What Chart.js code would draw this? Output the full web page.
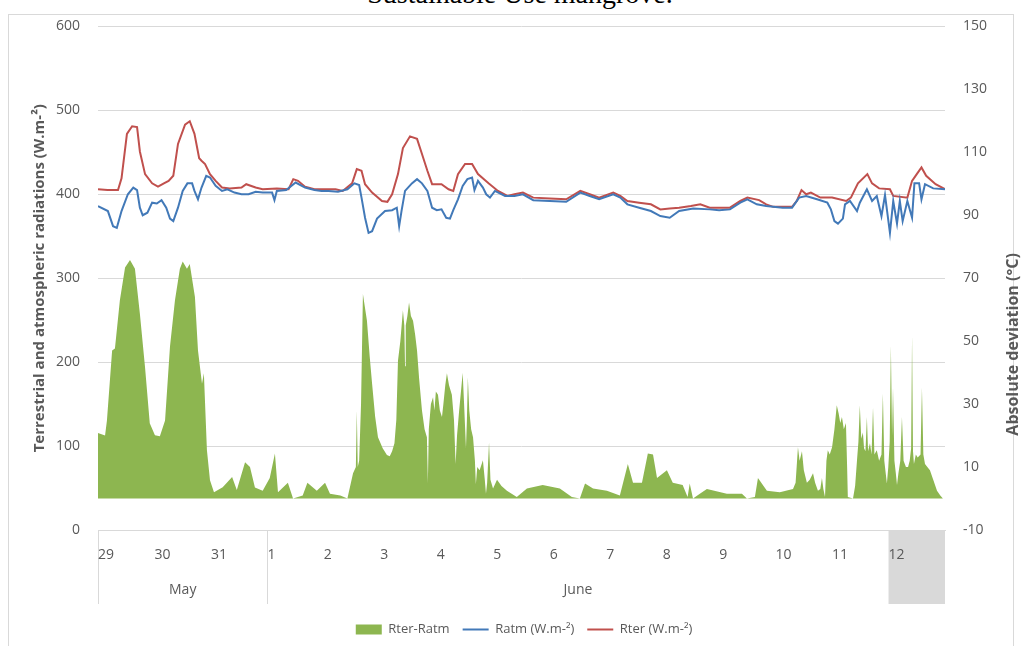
<!DOCTYPE html>
<html>
<head>
<meta charset="utf-8">
<script src="https://cdn.jsdelivr.net/npm/chart.js@4.4.1/dist/chart.umd.min.js"></script>
<style>
  html, body { margin: 0; padding: 0; background: #fff; overflow: hidden; }
  #frame { position: absolute; left: 8px; top: 14px; width: 1004px; height: 640px; border: 1px solid #d9d9d9; }
  #caption { position: absolute; left: 0; width: 1040px; top: -20px; text-align: center;
    font-family: "Liberation Serif", serif; font-size: 28px; line-height: 28px; color: #000; }
  #wrap { position: absolute; left: 0; top: 0; width: 1022px; height: 646px; }
</style>
</head>
<body>
<div id="frame"></div>
<div id="caption">Sustainable Use mangrove.</div>
<div id="wrap"><canvas id="radChart"></canvas></div>
<script>
// x = hours since 29 May 00:00
const dayLabels = ['29', '30', '31', '1', '2', '3', '4', '5', '6', '7', '8', '9', '10', '11', '12'];
const monthLabels = ['May', 'June'];
const monthSpans = [[0, 3], [3, 14]]; // in days
const shadedDays = [14, 15];
const leftTicks = [0, 100, 200, 300, 400, 500, 600];
const rightTicks = [-10, 10, 30, 50, 70, 90, 110, 130, 150];

const rterHours = [0, 4, 8.5, 10, 12.3, 14.5, 16.6, 17.8, 20, 23, 25.5, 28, 30, 32, 34, 37, 39, 41, 43, 44, 45.5, 47.6, 50, 52.7, 56, 61, 63, 67, 70, 76, 81, 83, 85, 88, 92, 97, 101, 104, 108, 110, 112, 113.5, 116.5, 120.7, 123, 125, 127.5, 129.6, 132.6, 135.6, 137.7, 140, 142, 146, 149, 151, 153, 156, 159, 161.5, 166, 170, 174, 177, 180.6, 185, 192, 199, 205, 209, 213, 219, 222, 225, 230, 235, 239, 243, 247, 252, 256, 260, 264, 268.6, 273, 276, 281, 284, 287, 291, 295, 297, 299, 301, 303, 307, 312, 318, 320, 323, 327, 329, 332, 336.6, 338, 344, 346, 348, 350, 352, 356, 360];
const rterValues = [406, 405, 405, 419, 472, 481, 480, 451, 424, 413, 409, 413, 416, 422, 460, 483, 487, 472, 443, 440, 436, 424, 416, 408, 407, 408, 412, 408, 406, 407, 406, 418, 416, 409, 406, 406, 406, 404, 413, 430, 428, 412, 402, 392, 391, 400, 424, 455, 469, 466, 448, 428, 412, 412, 406, 404, 424, 436, 436, 424, 413, 404, 398, 400, 402, 396, 395, 394, 404, 400, 396, 402, 398, 392, 390, 388, 382, 383, 384, 386, 388, 384, 384, 384, 392, 396, 393, 388, 385, 385, 385, 392, 405, 400, 402, 396, 396, 392, 396, 413, 424, 413, 407, 406, 398, 396, 416, 424, 432, 422, 412, 406];

const ratmHours = [0, 4.2, 6.4, 8, 10, 12.7, 15, 16.6, 17.8, 19, 21, 23, 25, 27, 29, 30.6, 32, 34, 36, 38, 40, 41, 42.5, 44, 46, 47.6, 50, 52.7, 55, 58, 61, 64, 67, 70, 74, 75, 76, 80, 84, 88, 92, 95, 98, 102, 106, 109, 111, 112, 113.5, 115, 116.5, 118.6, 122, 125, 127, 128, 129, 130.5, 133.4, 135.6, 137.7, 140, 142, 144, 146, 148, 149.6, 151, 153, 155, 157, 159, 160, 161.5, 163.6, 165, 166.6, 168.7, 173, 177, 180.6, 185, 192, 199, 205, 209, 213, 219, 222, 225, 230, 235, 239, 243, 247, 253, 260, 264, 268.6, 273, 276, 280, 284, 291, 295, 298, 301, 305.6, 310, 311.5, 313, 314.5, 316.6, 317.5, 319.6, 322.6, 323.8, 326.8, 329, 331, 333, 334.5, 336.6, 338, 339.6, 340.8, 342, 344, 346, 347, 349, 350, 351.5, 355, 360];
const ratmValues = [386, 380, 362, 360, 380, 400, 408, 405, 384, 375, 378, 390, 389, 393, 384, 371, 368, 384, 404, 413, 413, 404, 394, 408, 422, 420, 410, 404, 406, 402, 400, 400, 403, 402, 402, 393, 404, 405, 414, 408, 405, 404, 404, 403, 406, 413, 411, 396, 372, 354, 356, 371, 380, 381, 384, 362, 380, 404, 413, 418, 413, 404, 384, 381, 382, 372, 371, 381, 394, 410, 418, 420, 405, 416, 408, 400, 396, 404, 398, 398, 400, 393, 392, 391, 402, 398, 394, 400, 396, 388, 384, 380, 374, 372, 380, 383, 382, 381, 382, 390, 394, 388, 386, 384, 384, 396, 398, 394, 390, 382, 368, 365, 371, 388, 392, 380, 390, 406, 392, 398, 374, 399, 354, 392, 365, 392, 368, 392, 372, 413, 413, 394, 412, 407, 406];

const diffHours = [0, 3, 3.8, 6, 7.2, 9.3, 11.5, 13.6, 15.7, 17.8, 20, 22, 24.2, 26.3, 28.5, 30.6, 32.7, 34.8, 36, 37.8, 39, 41.2, 42.5, 44.2, 45, 46.3, 47.6, 49.3, 53, 57, 59, 62.5, 64.6, 66.7, 70, 73, 75.2, 76.5, 80.7, 82.9, 87, 89, 93, 96.5, 98.6, 103, 106, 108.4, 109.6, 110, 110.4, 111, 111.8, 112.6, 113.2, 114.3, 115.5, 116.5, 117.8, 119, 121, 122.8, 124, 125, 126, 126.8, 127.5, 128.5, 129.6, 130.2, 130.5, 130.8, 131.5, 132.2, 133, 133.9, 134.8, 135.6, 136.5, 137.7, 138.8, 139.8, 140.2, 140.6, 141.5, 142.4, 143, 143.6, 144.5, 145.3, 146.2, 146.8, 147.6, 148.3, 149.2, 150.4, 151.3, 152, 152.6, 153.5, 154.4, 155, 155.6, 156.4, 156.8, 157.2, 157.8, 158.6, 159.4, 160.2, 160.6, 161.2, 162.2, 163.6, 164.4, 164.9, 165.4, 166.2, 166.8, 167.9, 169.6, 171.5, 173.8, 178, 182.3, 189, 196.3, 201.4, 204.8, 207, 210.4, 216.3, 221.8, 225.2, 227.4, 231.2, 233.7, 235.9, 237.6, 241.8, 244.3, 248.5, 250.6, 251.5, 252.9, 255.8, 258.8, 267.3, 273.7, 275.8, 279.2, 280.5, 284.3, 289.8, 295.4, 296.5, 297.5, 298.2, 299.2, 300, 301.3, 302.5, 303.9, 304.8, 306, 307, 307.7, 308.3, 309, 309.6, 310.2, 311, 312, 313, 314, 314.8, 315.5, 316.2, 317, 317.9, 318.4, 318.7, 320.9, 321.8, 322.6, 323.2, 323.8, 324.4, 325.1, 325.6, 326.2, 326.8, 327.3, 328.1, 328.8, 329.4, 330, 331, 332, 333, 333.6, 334.2, 334.8, 335.3, 335.9, 336.5, 337, 337.5, 337.9, 338.5, 339.1, 339.6, 340.2, 341, 341.7, 342.4, 343.4, 344.3, 345, 345.6, 346, 346.4, 346.8, 347.6, 348.4, 349.6, 350.2, 350.8, 351.5, 352.5, 353.6, 355, 356.6, 358, 359.1, 360];
const diffValues = [20.8, 20, 24.8, 47, 47.7, 63, 73.4, 75.8, 73, 58.7, 41.6, 23.9, 20.1, 19.8, 24.8, 48.3, 62.9, 73, 75.3, 73, 74.5, 64, 47, 36.5, 39.8, 15.3, 5.8, 2, 3.6, 6.8, 2.7, 11.5, 10, 3.5, 2.5, 6.5, 14.3, 2, 5, 0, 1, 5, 2.5, 5, 1.5, 1, 0, 8, 10, 28, 10, 12, 30, 65, 62, 56.6, 45, 36.5, 26, 19.5, 16, 13.8, 13.4, 15, 17.6, 25, 43.8, 50, 59.8, 55, 42, 55, 58, 62.3, 58, 56.5, 52, 47, 38, 28, 22, 19.5, 4.9, 22, 30, 32.2, 28, 34, 33, 28, 25.9, 30, 36, 39.8, 36, 33, 25, 11, 20, 28, 35, 40, 30, 16, 25, 38.5, 28, 22, 19.5, 12, 4.5, 10, 9, 12.2, 6, 1.5, 5, 17.9, 6, 3.2, 6, 4, 2.5, 0.5, 3.2, 4.3, 3.2, 0.5, 0, 4.8, 3.2, 2.5, 1, 11, 5, 5, 14.3, 14, 6.5, 9, 5, 4.3, 0.5, 4.8, 0, 1.5, 3, 1.5, 1.5, 0, 0.5, 6.5, 2.5, 2, 3, 5, 16.3, 12, 15, 9, 5, 6, 8, 5, 2.5, 3, 6.5, 3, 0.5, 12, 15.3, 14, 16.3, 22, 29.6, 27, 24, 25.9, 22, 24, 10, 0.5, 0, 4, 12.2, 18, 29.6, 19, 21, 16, 15, 25.9, 15, 17.6, 14, 29, 14, 15.3, 12, 14, 33.4, 12, 8, 4.8, 10, 18, 48.6, 20, 35.3, 12, 8, 4.3, 8, 12, 25.9, 12, 10, 10, 12, 16, 51.8, 15, 11, 14, 13, 14, 35.3, 14, 11, 10, 9, 6, 2.5, 1, 0, 0];

const toPoints = (xs, ys) => xs.map((x, i) => ({ x: x, y: ys[i] }));

const axisGray = '#595959';
const tickFont = { family: 'Open Sans', size: 14 };

const categoryBands = {
    id: 'categoryBands',
    beforeDraw(chart) {
        const { ctx, chartArea, scales } = chart;
        const x = scales.x;
        const top = chartArea.bottom;
        const bottom = scales.xm.bottom - 6;
        ctx.save();
        ctx.fillStyle = '#d9d9d9';
        const x0 = x.getPixelForValue(shadedDays[0] * 24);
        const x1 = x.getPixelForValue(shadedDays[1] * 24);
        ctx.fillRect(x0, top, x1 - x0, bottom - top);
        ctx.strokeStyle = '#d9d9d9';
        ctx.lineWidth = 1;
        monthSpans.forEach(span => {
            const px = Math.round(x.getPixelForValue(span[0] * 24)) + 0.5;
            ctx.beginPath();
            ctx.moveTo(px, top);
            ctx.lineTo(px, bottom);
            ctx.stroke();
        });
        ctx.restore();
    },
    afterDraw(chart) {
        const { ctx, chartArea } = chart;
        ctx.save();
        ctx.translate(chart.width - 9, chartArea.top + 318);
        ctx.rotate(-Math.PI / 2);
        ctx.fillStyle = axisGray;
        ctx.font = 'bold 16px "Open Sans"';
        ctx.textAlign = 'center';
        ctx.textBaseline = 'middle';
        ctx.fillText('Absolute deviation (°C)', 0, 0);
        ctx.restore();
    }
};

new Chart(document.getElementById('radChart'), {
    type: 'line',
    data: {
        datasets: [
            {
                label: 'Rter-Ratm',
                data: toPoints(diffHours, diffValues),
                yAxisID: 'y1',
                borderWidth: 0,
                borderColor: '#8db650',
                backgroundColor: '#8db650',
                fill: 'origin',
                pointRadius: 0,
                pointStyle: 'rect',
                order: 3
            },
            {
                label: 'Ratm (W.m-²)',
                data: toPoints(ratmHours, ratmValues),
                yAxisID: 'y',
                borderColor: '#4279b8',
                backgroundColor: '#4279b8',
                borderWidth: 2,
                pointRadius: 0,
                pointStyle: 'line',
                order: 1
            },
            {
                label: 'Rter (W.m-²)',
                data: toPoints(rterHours, rterValues),
                yAxisID: 'y',
                borderColor: '#c0504d',
                backgroundColor: '#c0504d',
                borderWidth: 2,
                pointRadius: 0,
                pointStyle: 'line',
                order: 2
            }
        ]
    },
    options: {
        animation: false,
        responsive: true,
        maintainAspectRatio: false,
        layout: { padding: { top: 25, bottom: 0, left: 26, right: 0 } },
        plugins: {
            legend: {
                position: 'bottom',
                labels: {
                    usePointStyle: true,
                    pointStyleWidth: 26,
                    boxHeight: 10,
                    color: axisGray,
                    font: { family: 'Open Sans', size: 13 },
                    padding: 13,
                    sort: (a, b) => a.datasetIndex - b.datasetIndex
                }
            },
            tooltip: { enabled: false }
        },
        scales: {
            x: {
                type: 'linear',
                position: 'bottom',
                min: 0,
                max: 360,
                afterBuildTicks: axis => { axis.ticks = dayLabels.map((_, i) => ({ value: i * 24 })); },
                afterFit: axis => { axis.height = 48; },
                ticks: {
                    callback: (v, i) => dayLabels[i],
                    align: 'start',
                    autoSkip: false,
                    maxRotation: 0,
                    color: axisGray,
                    font: tickFont,
                    padding: 9
                },
                grid: { display: false },
                border: { display: true, color: '#d9d9d9' }
            },
            xm: {
                type: 'linear',
                position: 'bottom',
                min: 0,
                max: 360,
                afterBuildTicks: axis => { axis.ticks = monthSpans.map(s => ({ value: (s[0] + s[1]) * 12 })); },
                afterFit: axis => { axis.height = 32; },
                ticks: {
                    callback: (v, i) => monthLabels[i],
                    autoSkip: false,
                    maxRotation: 0,
                    color: axisGray,
                    font: tickFont,
                    padding: 4
                },
                grid: { display: false, drawTicks: false },
                border: { display: false }
            },
            y: {
                position: 'left',
                min: 0,
                max: 600,
                afterBuildTicks: axis => { axis.ticks = leftTicks.map(v => ({ value: v })); },
                afterFit: axis => { axis.width = 72; },
                ticks: { color: axisGray, font: tickFont, padding: 18 },
                grid: { color: '#d9d9d9', drawTicks: false },
                border: { display: false },
                title: {
                    display: true,
                    text: 'Terrestrial and atmospheric radiations (W.m-²)',
                    color: axisGray,
                    font: { family: 'Open Sans', size: 15, weight: 'bold' },
                    padding: { top: 5, bottom: 0 }
                }
            },
            y1: {
                position: 'right',
                min: -10,
                max: 150,
                afterBuildTicks: axis => { axis.ticks = rightTicks.map(v => ({ value: v })); },
                afterFit: axis => { axis.width = 77; },
                ticks: { color: axisGray, font: tickFont, padding: 18 },
                grid: { display: false, drawTicks: false },
                border: { display: false }
            }
        }
    },
    plugins: [categoryBands]
});
</script>
</body>
</html>
